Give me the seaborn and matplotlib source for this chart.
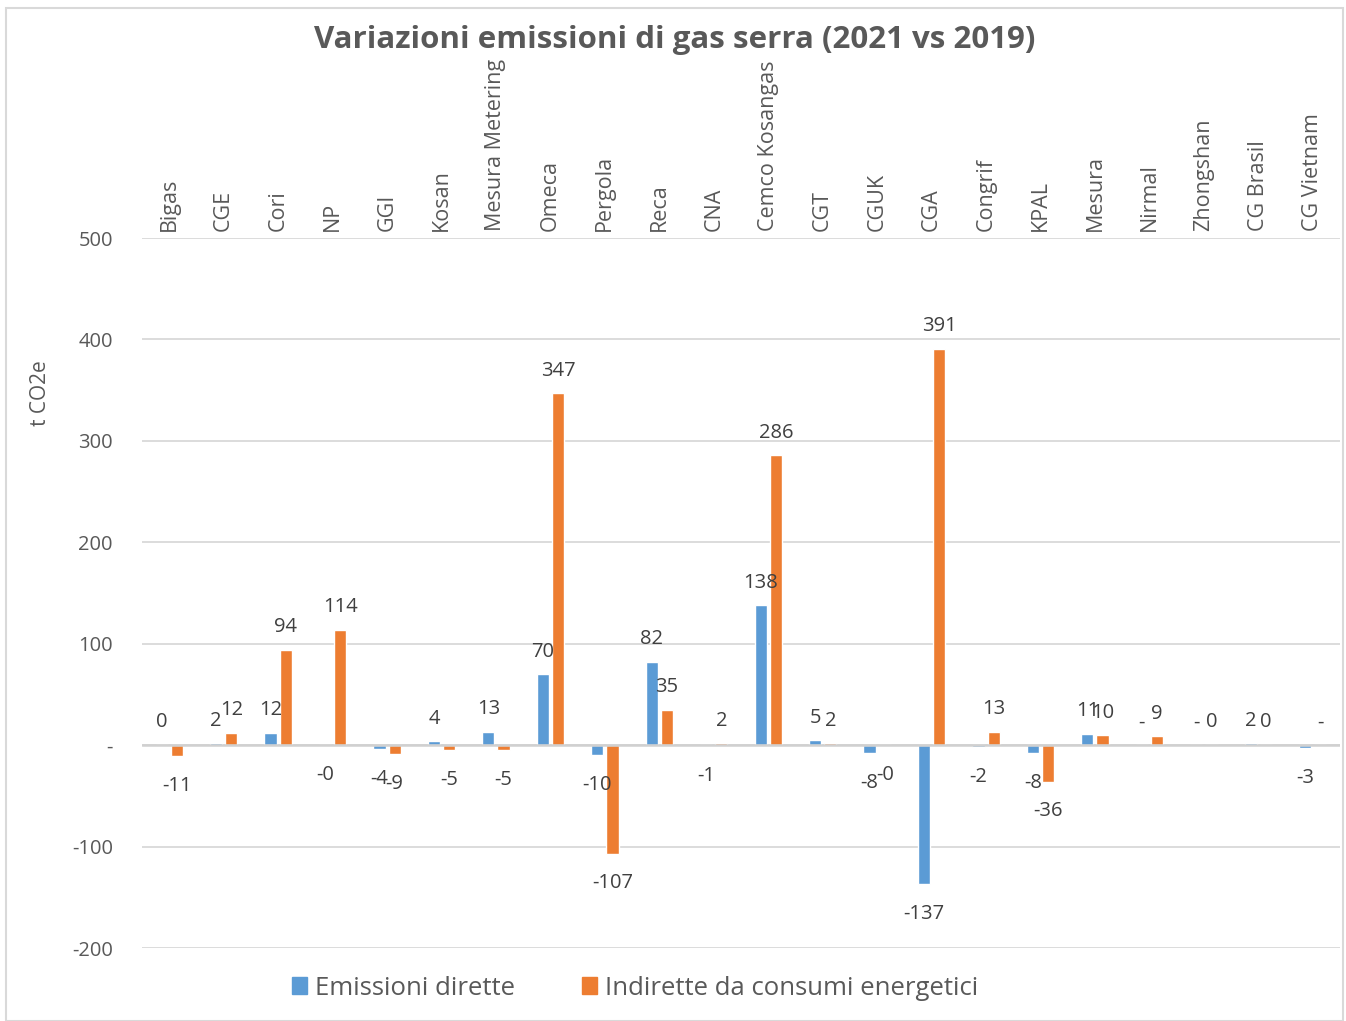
import matplotlib
matplotlib.use("Agg")
import matplotlib.pyplot as plt
import seaborn as sns
import pandas as pd
from matplotlib.patches import Rectangle

categories = ["Bigas", "CGE", "Cori", "NP", "GGI", "Kosan", "Mesura Metering", "Omeca",
              "Pergola", "Reca", "CNA", "Cemco Kosangas", "CGT", "CGUK", "CGA", "Congrif",
              "KPAL", "Mesura", "Nirmal", "Zhongshan", "CG Brasil", "CG Vietnam"]
dirette = [0.2, 2, 12, -0.3, -4, 4, 13, 70, -10, 82, -1, 138, 5, -8, -137, -2, -8, 11, 0, 0, 2, -3]
indirette = [-11, 12, 94, 114, -9, -5, -5, 347, -107, 35, 2, 286, 2, -0.3, 391, 13, -36, 10, 9, 0.2, 0.2, 0]
series = ["Emissioni dirette", "Indirette da consumi energetici"]
yticks = [-200, -100, 0, 100, 200, 300, 400, 500]
ytick_labels = ["-200", "-100", "-", "100", "200", "300", "400", "500"]

df = pd.DataFrame({
    "Società": categories * 2,
    "Serie": [series[0]] * len(categories) + [series[1]] * len(categories),
    "Valore": dirette + indirette,
})

sns.set_theme(style="white")
FONT = ["Open Sans", "DejaVu Sans"]
plt.rcParams["font.family"] = FONT

colors = {series[0]: "#5B9BD5", series[1]: "#ED7D31"}
TXT = "#595959"

fig = plt.figure(figsize=(13.46, 10.21), dpi=100)
ax = fig.add_axes([142 / 1346, 1 - 948 / 1021, (1340 - 142) / 1346, (948 - 238) / 1021])

sns.barplot(data=df, x="Società", y="Valore", hue="Serie", order=categories,
            hue_order=series, palette=colors, width=0.56, gap=0.2,
            ax=ax, legend=False, errorbar=None, saturation=1)

ax.set_ylim(-200, 500)
ax.set_xlim(-0.5, len(categories) - 0.5)
ax.set_yticks(yticks)
ax.set_yticklabels(ytick_labels, fontsize=14.5, color=TXT)
ax.tick_params(axis="y", length=0, pad=21)
ax.yaxis.grid(True, color="#D9D9D9", linewidth=1.3)
ax.set_axisbelow(True)
for s in ax.spines.values():
    s.set_visible(False)
ax.axhline(0, color="#D0D0D0", linewidth=1.8, zorder=1.5)

ax.xaxis.tick_top()
ax.set_xticks(range(len(categories)))
ax.set_xticklabels(categories, rotation=90, fontsize=15.5, color=TXT)
ax.tick_params(axis="x", length=0, pad=5)
ax.set_xlabel("")
ax.set_ylabel("")

def fmt(v):
    if v == 0:
        return "-"
    return f"{v:.0f}"

for cont, vals in zip(ax.containers, [dirette, indirette]):
    for bar, v in zip(cont, vals):
        xc = bar.get_x() + bar.get_width() / 2
        if v >= 0:
            ax.annotate(fmt(v), (xc, v), xytext=(0, 9), textcoords="offset points",
                        ha="center", va="bottom", fontsize=14.5, color="#404040")
        else:
            ax.annotate(fmt(v), (xc, v), xytext=(0, -14), textcoords="offset points",
                        ha="center", va="top", fontsize=14.5, color="#404040")

fig.text(675 / 1346, 1 - 40 / 1021, "Variazioni emissioni di gas serra (2021 vs 2019)",
         ha="center", va="center", fontsize=22.5, fontweight="bold", color=TXT)
fig.text(41 / 1346, 1 - 393 / 1021, "t CO2e", rotation=90, ha="center", va="center",
         fontsize=15, color=TXT)

handles = [Rectangle((0, 0), 1, 1, color=colors[s]) for s in series]
fig.legend(handles, series, loc="center", bbox_to_anchor=(635 / 1346, 1 - 988 / 1021),
           ncol=2, frameon=False, fontsize=18.5, handlelength=0.6, handleheight=0.6,
           handletextpad=0.3, columnspacing=2.6, labelcolor=TXT)

fig.add_artist(Rectangle((6 / 1346, 0), (1343 - 6) / 1346, 1 - 8 / 1021,
                         transform=fig.transFigure, fill=False, edgecolor="#D9D9D9",
                         linewidth=1.5))

fig.savefig("out.png", dpi=100, facecolor="white")
